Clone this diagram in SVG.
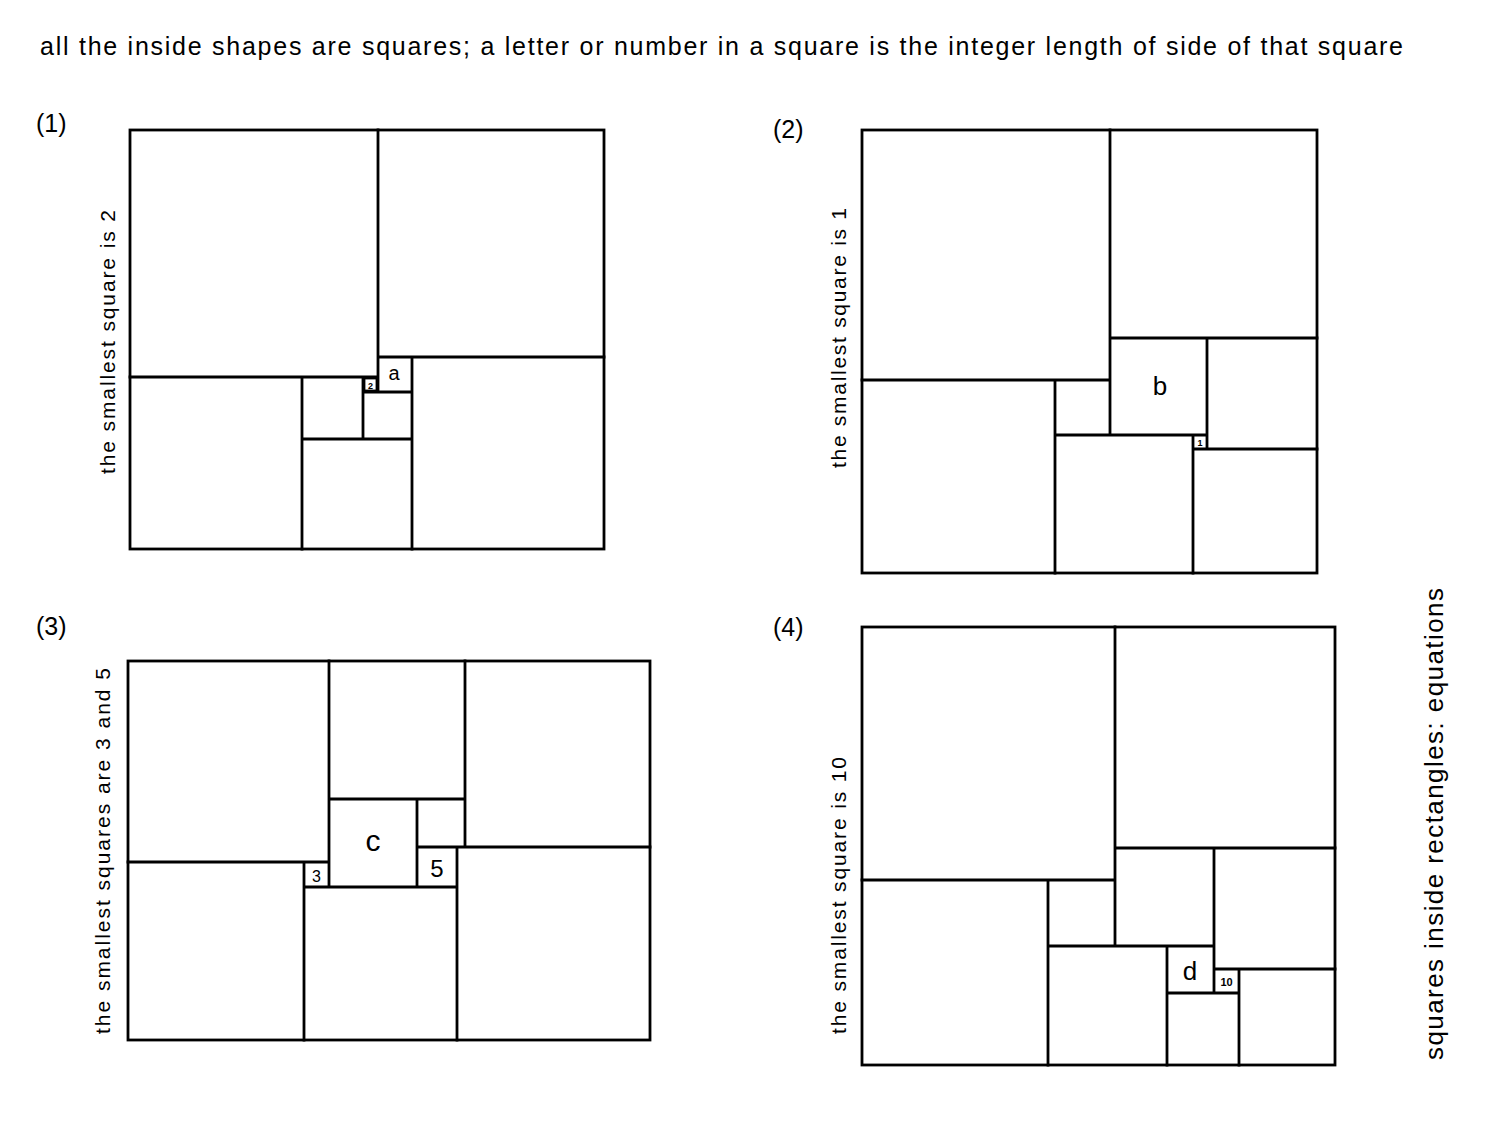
<svg xmlns="http://www.w3.org/2000/svg" width="1500" height="1125" viewBox="0 0 1500 1125">
<style>
.l{stroke:#000;stroke-width:2.8;fill:none;stroke-linecap:square}
.t{font-family:"Liberation Sans",Arial,sans-serif;fill:#000}
</style>
<rect width="1500" height="1125" fill="#fff"/>
<text class="t" x="40" y="55" font-size="25" textLength="1363" lengthAdjust="spacing">all the inside shapes are squares; a letter or number in a square is the integer length of side of that square</text>
<g id="fig1">
<text class="t" x="36" y="132" font-size="25">(1)</text>
<rect class="l" x="130" y="130" width="474" height="419"/>
<path class="l" d="M378 130V392M130 377H378M378 357H604M412 357V549M363 377V439M363 392H412M302 439H412M302 377V549"/>
<text class="t" x="394" y="380" font-size="20" text-anchor="middle">a</text>
<rect class="l" x="364" y="378" width="13" height="13" stroke-width="1"/>
<text class="t" x="370.5" y="389" font-size="9" font-weight="bold" text-anchor="middle">2</text>
<text class="t" font-size="21" transform="translate(115 474) rotate(-90)" textLength="264" lengthAdjust="spacing">the smallest square is 2</text>
</g>
<g id="fig2">
<text class="t" x="773" y="138" font-size="25">(2)</text>
<rect class="l" x="862" y="130" width="455" height="443"/>
<path class="l" d="M1110 130V435M862 380H1110M1110 338H1317M1207 338V449M1193 449H1317M1055 435H1207M1055 380V573M1193 435V573"/>
<text class="t" x="1160" y="395" font-size="26" text-anchor="middle">b</text>
<text class="t" x="1200" y="446" font-size="9" font-weight="bold" text-anchor="middle">1</text>
<text class="t" font-size="21" transform="translate(846 468) rotate(-90)" textLength="260" lengthAdjust="spacing">the smallest square is 1</text>
</g>
<g id="fig3">
<text class="t" x="36" y="635" font-size="25">(3)</text>
<rect class="l" x="128" y="661" width="522" height="379"/>
<path class="l" d="M329 661V887M465 661V847M128 862H329M329 799H465M417 847H650M417 799V887M457 847V1040M304 887H457M304 862V1040"/>
<text class="t" x="373" y="851" font-size="30" text-anchor="middle">c</text>
<text class="t" x="437" y="877" font-size="24" text-anchor="middle">5</text>
<text class="t" x="316.5" y="882" font-size="16" text-anchor="middle">3</text>
<text class="t" font-size="21" transform="translate(110 1034) rotate(-90)" textLength="366" lengthAdjust="spacing">the smallest squares are 3 and 5</text>
</g>
<g id="fig4">
<text class="t" x="773" y="636" font-size="25">(4)</text>
<rect class="l" x="862" y="627" width="473" height="438"/>
<path class="l" d="M1115 627V946M862 880H1115M1115 848H1335M1214 848V993M1048 946H1214M1048 880V1065M1167 946V1065M1167 993H1239M1239 969V1065M1214 969H1335"/>
<text class="t" x="1190" y="980" font-size="26" text-anchor="middle">d</text>
<text class="t" x="1226.5" y="986" font-size="11" font-weight="bold" text-anchor="middle">10</text>
<text class="t" font-size="21" transform="translate(846 1034) rotate(-90)" textLength="277" lengthAdjust="spacing">the smallest square is 10</text>
</g>
<text class="t" font-size="26" transform="translate(1443 1060) rotate(-90)" textLength="472" lengthAdjust="spacing">squares inside rectangles: equations</text>
</svg>
